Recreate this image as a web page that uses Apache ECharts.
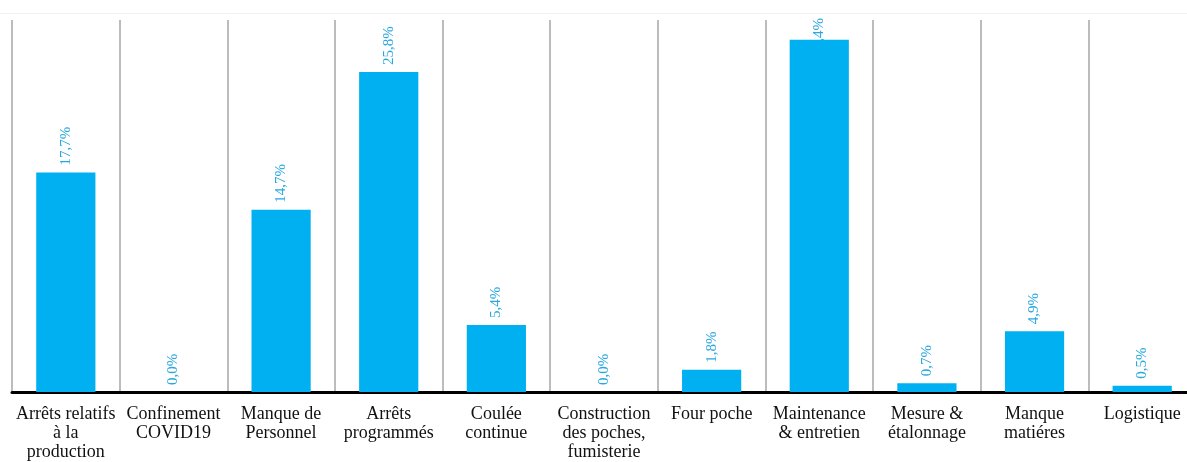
<!DOCTYPE html>
<html>
<head>
<meta charset="utf-8">
<script src="https://cdn.jsdelivr.net/npm/echarts@6/dist/echarts.min.js"></script>
<style>html,body{margin:0;padding:0;background:#fff;overflow:hidden;}#c{width:1200px;height:462px;}</style>
</head>
<body>
<div id="c"></div>
<script>
const categories = [
  "Arrêts relatifs\nà la\nproduction",
  "Confinement\nCOVID19",
  "Manque de\nPersonnel",
  "Arrêts\nprogrammés",
  "Coulée\ncontinue",
  "Construction\ndes poches,\nfumisterie",
  "Four poche",
  "Maintenance\n& entretien",
  "Mesure &\nétalonnage",
  "Manque\nmatiéres",
  "Logistique"
];
const values = [17.7, 0.0, 14.7, 25.8, 5.4, 0.0, 1.8, 28.4, 0.7, 4.9, 0.5];
const BAR = '#00b0f0';
const LBL = '#29a8e0';
const fmt = v => v.toFixed(1).replace('.', ',') + '%';

// the tallest bar's label does not fit above the plot: it is pushed down and partly hidden by the bar
const maxV = Math.max(...values);
const seriesData = values.map(v => v === maxV ? {
  value: v,
  label: {
    distance: -17,
    formatter: p => {
      const s = fmt(p.value);
      return '{h|' + s.slice(0, s.length - 2) + '}{v|' + s.slice(-2) + '}';
    }
  }
} : v);

const chart = echarts.init(document.getElementById('c'));
chart.setOption({
  animation: false,
  backgroundColor: '#fff',
  grid: { left: 12, top: 20, width: 1184, height: 373, containLabel: false },
  xAxis: {
    type: 'category',
    data: categories,
    boundaryGap: true,
    axisLine: { show: true, lineStyle: { color: '#000', width: 3 } },
    axisTick: { show: false },
    splitLine: { show: true, lineStyle: { color: '#a6a6a6', width: 1.5 } },
    axisLabel: {
      interval: 0,
      margin: 13,
      color: '#111',
      fontFamily: 'Liberation Serif, DejaVu Serif, serif',
      fontSize: 18,
      lineHeight: 19,
      align: 'center'
    }
  },
  yAxis: {
    type: 'value', min: 0, max: 30, show: false,
    splitLine: { show: false }
  },
  series: [{
    type: 'bar',
    data: seriesData,
    barWidth: '55%',
    itemStyle: { color: BAR },
    label: {
      show: true,
      position: 'top',
      rotate: 90,
      align: 'left',
      verticalAlign: 'middle',
      distance: 7,
      color: LBL,
      fontFamily: 'Liberation Serif, DejaVu Serif, serif',
      fontSize: 15,
      formatter: p => fmt(p.value),
      rich: {
        h: { color: BAR, fontFamily: 'Liberation Serif, DejaVu Serif, serif', fontSize: 15 },
        v: { color: LBL, fontFamily: 'Liberation Serif, DejaVu Serif, serif', fontSize: 15 }
      }
    }
  }],
  graphic: [
    { type: 'line', z: 101, shape: { x1: 0, y1: 13.5, x2: 1200, y2: 13.5 }, style: { stroke: '#f2f2f2', lineWidth: 1 } }
  ]
});
</script>
</body>
</html>
